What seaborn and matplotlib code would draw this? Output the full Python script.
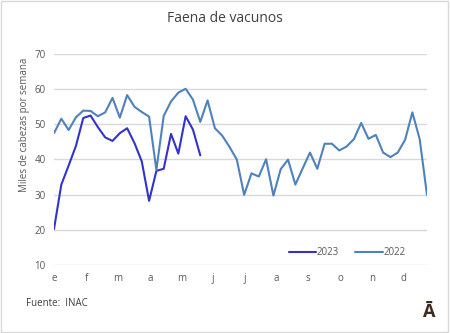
import matplotlib
matplotlib.use("Agg")
import matplotlib.pyplot as plt
import seaborn as sns
import pandas as pd
import numpy as np
from matplotlib.patches import Rectangle

# ---- data ----
months = ["e", "f", "m", "a", "m", "j", "j", "a", "s", "o", "n", "d"]
vals_2023 = [20.2, 32.8, 38.2, 43.8, 51.7, 52.4, 49.1, 46.2, 45.2, 47.4, 48.8,
             44.6, 39.4, 28.2, 36.7, 37.3, 47.2, 41.6, 52.2, 48.4, 41.1]
vals_2022 = [47.4, 51.5, 48.3, 51.9, 53.8, 53.7, 52.2, 53.3, 57.4, 51.8, 58.2,
             54.9, 53.4, 52.1, 37.0, 52.3, 56.4, 58.9, 60.0, 56.9, 50.6, 56.7,
             48.8, 46.7, 43.5, 39.9,
             29.9, 36.0, 35.1, 40.0, 29.7, 37.2, 39.9, 32.8, 37.4, 41.9, 37.3,
             44.4, 44.4, 42.5, 43.6, 45.7, 50.3, 45.8, 46.9, 41.9, 40.6, 41.9,
             45.5, 53.3, 45.7, 29.9]
series_names = ["2023", "2022"]

df = pd.concat([
    pd.DataFrame({"semana": range(len(vals_2023)), "valor": vals_2023, "serie": "2023"}),
    pd.DataFrame({"semana": range(len(vals_2022)), "valor": vals_2022, "serie": "2022"}),
])

sns.set_theme(style="white")
plt.rcParams["font.family"] = ["Open Sans", "DejaVu Sans"]

fig = plt.figure(figsize=(4.5, 3.33), dpi=100)
ax = fig.add_axes([54 / 450, 1 - 265 / 333, (427 - 54) / 450, (265 - 53.5) / 333])

palette = {"2023": "#3333CC", "2022": "#4F81BD"}
sns.lineplot(data=df, x="semana", y="valor", hue="serie", hue_order=series_names,
             palette=palette, linewidth=1.5, ax=ax)

ax.set_xlim(0, 51)
ax.set_ylim(10, 70)
ax.set_yticks(range(10, 71, 10))
ax.yaxis.grid(True, color="#D9D9D9", linewidth=1)
ax.set_axisbelow(True)
for s in ax.spines.values():
    s.set_visible(False)
ax.set_xticks([i * 52 / 12 + 0.1 for i in range(12)])
ax.set_xticklabels(months)
ax.tick_params(axis="both", length=0, labelsize=7, colors="#595959")
ax.tick_params(axis="x", pad=6)
ax.tick_params(axis="y", pad=6)
ax.set_xlabel("")
ax.set_ylabel("")

leg = ax.legend(loc="lower right", bbox_to_anchor=(0.965, -0.01), ncol=2, frameon=False,
                fontsize=7, handlelength=2.8, handletextpad=0.05, columnspacing=1.7,
                labelcolor="#595959")

fig.text(225 / 450, 1 - 19 / 333, "Faena de vacunos", ha="center", va="center",
         fontsize=10, color="#404040")
fig.text(25 / 450, 1 - 125 / 333, "Miles de cabezas por semana", rotation=90,
         ha="center", va="center", fontsize=7, color="#595959")
fig.text(26 / 450, 1 - 303 / 333, "Fuente:  INAC", ha="left", va="center",
         fontsize=7, color="#404040")
fig.text(428 / 450, 1 - 312 / 333, "Ā", ha="center", va="center",
         fontsize=13, fontweight="bold", color="#3B2A1E")

fig.patches.append(Rectangle((0.002, 0.003), 0.994, 0.994, transform=fig.transFigure,
                             fill=False, edgecolor="#D9D9D9", linewidth=1))

fig.savefig("out.png", dpi=100)
